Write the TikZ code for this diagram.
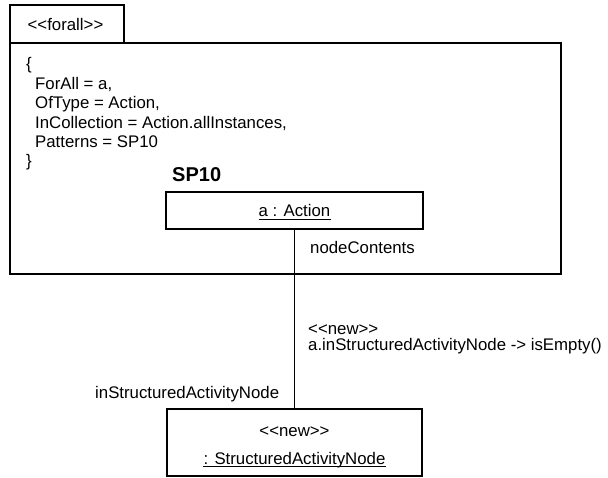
\documentclass[tikz,border=0pt]{standalone}
\usepackage{fontspec}
\setmainfont{Liberation Sans}
\begin{document}
\begin{tikzpicture}[x=1pt,y=-1pt,
  txt/.style={font=\fontsize{16.8}{19}\selectfont, inner sep=0pt, anchor=base west},
  ctxt/.style={txt, anchor=base},
  umlbox/.style={draw, line width=1.1pt, fill=white, inner sep=0pt, outer sep=0pt, anchor=north west},
  link/.style={line width=1.1pt},
  uline/.style={line width=0.9pt}
]
\useasboundingbox (0,0) rectangle (608,478);
\fill[white] (0,0) rectangle (608,478);

% forall frame with its name tab
\node[umlbox, minimum width=551pt, minimum height=231pt] (frame) at (10,43) {};
\node[umlbox, minimum width=114pt, minimum height=38pt] (tab) at (10,5) {};
\node[ctxt] (tabtxt) at (65.5,31) {<{}<forall>{}>};

% frame parameters
\node[txt] (l0) at (26,70) {\{};
\node[txt] (l1) at (35,90) {ForAll = a,};
\node[txt] (l2) at (35,109) {OfType = Action,};
\node[txt] (l3) at (35,128.5) {InCollection = Action.allInstances,};
\node[txt] (l4) at (35,148) {Patterns = SP10};
\node[txt] (l5) at (26,167) {\}};

% pattern SP10
\node[txt, font=\bfseries\fontsize{20}{24}\selectfont] (sp) at (172,182) {SP10};
\node[umlbox, minimum width=257pt, minimum height=37pt] (act) at (166,192) {};
\node[ctxt] (acttxt) at (294.5,217) {a : Action};
\draw[uline] ([yshift=-2pt]acttxt.base west) -- ([yshift=-2pt]acttxt.base east);

% new structured activity node
\node[umlbox, minimum width=255pt, minimum height=67pt] (san) at (167,409) {};
\node[ctxt] (santag) at (294.5,436) {<{}<new>{}>};
\node[ctxt] (santxt) at (294.5,464) {: StructuredActivityNode};
\draw[uline] ([yshift=-2pt]santxt.base west) -- ([yshift=-2pt]santxt.base east);

% association with its role names and constraint
\draw[link] (act.south) -- (san.north);
\node[txt] (role1) at (310,254) {nodeContents};
\node[txt] (st1) at (308,335) {<{}<new>{}>};
\node[txt] (st2) at (308,351) {a.inStructuredActivityNode -> isEmpty()};
\node[txt] (role2) at (95,399) {inStructuredActivityNode};
\end{tikzpicture}
\end{document}
